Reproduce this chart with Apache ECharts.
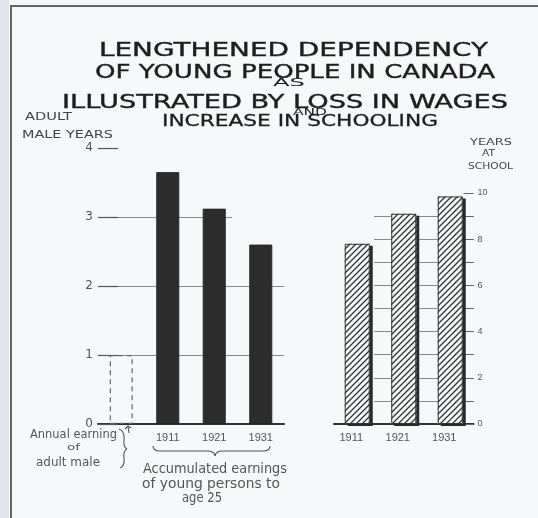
<!DOCTYPE html>
<html>
<head>
<meta charset="utf-8">
<script src="https://cdn.jsdelivr.net/npm/echarts@6/dist/echarts.min.js"></script>
<style>
html,body{margin:0;padding:0;background:#f6f9f9;}
#chart{width:538px;height:518px;}
</style>
</head>
<body>
<div id="chart"></div>
<script>
// ---- data ----
const earningsCategories = ['', '1911', '1921', '1931'];
const earningsValues = [1.0, 3.65, 3.12, 2.6];      // adult male years
const schoolCategories = ['1911', '1921', '1931'];
const schoolValues = [7.8, 9.1, 9.85];              // years at school
const earningsTicks = [0, 1, 2, 3, 4];
const schoolTickLabels = [0, 2, 4, 6, 8, 10];

const titleLines = ['LENGTHENED DEPENDENCY', 'OF YOUNG PEOPLE IN CANADA', 'AS',
  'ILLUSTRATED BY LOSS IN WAGES', 'AND', 'INCREASE IN SCHOOLING'];

// ---- helpers ----
const measure = document.createElement('canvas').getContext('2d');
function fitText(text, font, left, right, cy, fill, bold) {
  measure.font = font;
  const w = measure.measureText(text).width;
  const col = fill || '#1e1e1e';
  const style = { text: text, font: font, fill: col, textAlign: 'left', textVerticalAlign: 'middle' };
  if (bold) { style.stroke = col; style.lineWidth = bold; }
  return { type: 'text', x: left, y: cy, scaleX: (right - left) / w, z: 10, style: style };
}
function hatch() {
  const s = 12, step = 6;
  const c = document.createElement('canvas');
  c.width = s; c.height = s;
  const g = c.getContext('2d');
  g.fillStyle = '#f6f9f9'; g.fillRect(0, 0, s, s);
  g.strokeStyle = '#333'; g.lineWidth = 1.3;
  g.beginPath();
  for (let k = -step; k <= 2 * s + step; k += step) {
    g.moveTo(k - s - 1, s + 1);
    g.lineTo(k + 1, -1);
  }
  g.stroke();
  return c;
}
const inkStyle = { stroke: '#555', fill: null, lineWidth: 1.1 };
function curve(x1, y1, cx, cy, x2, y2) {
  return { type: 'bezierCurve', z: 10, shape: { x1: x1, y1: y1, cpx1: cx, cpy1: cy, x2: x2, y2: y2 }, style: inkStyle };
}
function poly(points) {
  return { type: 'polyline', z: 10, shape: { points: points }, style: inkStyle };
}

// ---- layout ----
const L = { left: 98, top: 148, width: 186, height: 276 };
const R = { left: 334, top: 193, width: 139.5, height: 231 };
const lMax = earningsTicks[earningsTicks.length - 1];
const rMax = schoolTickLabels[schoolTickLabels.length - 1];

const gridLine = { color: '#8a8a8a', width: 1 };
const hidden = { show: false };

const chart = echarts.init(document.getElementById('chart'));
const handFont = '"DejaVu Sans", sans-serif';
const titleFont = '"DejaVu Sans", sans-serif';

chart.setOption({
  backgroundColor: '#f6f9f9',
  animation: false,
  grid: [
    { left: L.left, top: L.top, width: L.width, height: L.height },
    { left: L.left, top: L.top + L.height * (1 - 2 / lMax), width: L.width, height: L.height * 2 / lMax },
    { left: L.left, top: L.top + L.height * (1 - 3 / lMax), width: 134, height: L.height * 3 / lMax },
    { left: R.left, top: R.top, width: R.width, height: R.height },
    { left: 374, top: R.top + R.height * (1 - 9 / rMax), width: 100, height: R.height * 9 / rMax }
  ],
  xAxis: [
    { gridIndex: 0, type: 'category', data: earningsCategories,
      axisLine: { lineStyle: { color: '#333', width: 2 } }, axisTick: hidden,
      axisLabel: { margin: 8, fontSize: 11, color: '#555', fontFamily: '"Liberation Sans", sans-serif' } },
    { gridIndex: 1, type: 'value', min: 0, max: 1, show: false },
    { gridIndex: 2, type: 'value', min: 0, max: 1, show: false },
    { gridIndex: 3, type: 'category', data: schoolCategories,
      axisLine: { lineStyle: { color: '#333', width: 2 } }, axisTick: hidden,
      axisLabel: { margin: 8, fontSize: 11, color: '#555', padding: [0, 12, 0, 0], fontFamily: '"Liberation Sans", sans-serif' } },
    { gridIndex: 4, type: 'value', min: 0, max: 1, show: false }
  ],
  yAxis: [
    { gridIndex: 0, type: 'value', min: 0, max: lMax, interval: 1,
      axisLine: hidden, splitLine: hidden,
      axisTick: { show: true, inside: true, length: 20, lineStyle: { color: '#555', width: 1.2 } },
      axisLabel: { margin: 5, fontSize: 12, color: '#555', fontFamily: '"DejaVu Sans", sans-serif' } },
    { gridIndex: 1, type: 'value', min: 0, max: 2, interval: 1, axisLine: hidden, axisTick: hidden,
      axisLabel: hidden, splitLine: { lineStyle: gridLine } },
    { gridIndex: 2, type: 'value', min: 0, max: 3, interval: 1, axisLine: hidden, axisTick: hidden,
      axisLabel: hidden, splitLine: { lineStyle: gridLine } },
    { gridIndex: 3, type: 'value', position: 'right', min: 0, max: rMax, interval: 1,
      axisLine: hidden, splitLine: hidden,
      axisTick: { show: true, inside: true, length: 10, lineStyle: { color: '#666', width: 1 } },
      axisLabel: { margin: 4, fontSize: 9, color: '#555',
        formatter: v => schoolTickLabels.indexOf(v) >= 0 ? String(v) : '' } },
    { gridIndex: 4, type: 'value', min: 0, max: 9, interval: 1, axisLine: hidden, axisTick: hidden,
      axisLabel: hidden, splitLine: { lineStyle: gridLine } }
  ],
  series: [
    { type: 'bar', xAxisIndex: 0, yAxisIndex: 0, barWidth: 23, z: 5,
      itemStyle: { color: '#2c2c2c', borderColor: '#222', borderWidth: 0.8 },
      data: earningsValues.map((v, i) => i === 0 ? {
        value: v,
        itemStyle: { color: 'rgba(0,0,0,0)', borderColor: '#666', borderWidth: 1.2, borderType: [5, 4] }
      } : v) },
    // hatched fill with its drop shadow
    { type: 'bar', xAxisIndex: 3, yAxisIndex: 3, barWidth: 25, z: 5,
      itemStyle: { color: { image: hatch(), repeat: 'repeat' }, borderWidth: 0,
        shadowColor: '#2a2a2a', shadowBlur: 0, shadowOffsetX: 3, shadowOffsetY: 2 },
      data: schoolValues },
    // thin outline of the same bars (no shadow)
    { type: 'bar', xAxisIndex: 3, yAxisIndex: 3, barWidth: 25, barGap: '-100%', z: 6,
      itemStyle: { color: 'rgba(0,0,0,0)', borderColor: '#333', borderWidth: 1 },
      data: schoolValues }
  ],
  graphic: [
    { type: 'rect', shape: { x: 0, y: 0, width: 9, height: 518 }, style: { fill: '#e1e5ee' }, z: 1 },
    { type: 'line', shape: { x1: 11, y1: 5, x2: 11, y2: 518 }, style: { stroke: '#666', lineWidth: 2 }, z: 1 },
    { type: 'line', shape: { x1: 10, y1: 6, x2: 538, y2: 6 }, style: { stroke: '#666', lineWidth: 2 }, z: 1 },
    fitText(titleLines[0], '20px ' + titleFont, 99, 488, 50.5, null, 0.4),
    fitText(titleLines[1], '20px ' + titleFont, 95, 495, 72.5, null, 0.4),
    fitText(titleLines[2], '10px ' + titleFont, 273, 305, 83.5),
    fitText(titleLines[3], '20px ' + titleFont, 62, 508, 102.5, null, 0.4),
    fitText(titleLines[4], '9px ' + titleFont, 293, 327, 112.5),
    fitText(titleLines[5], '16px ' + titleFont, 162, 438, 121.5, null, 0.3),
    fitText('ADULT', '10px ' + titleFont, 25, 72, 117, '#444'),
    fitText('MALE YEARS', '10px ' + titleFont, 22, 113, 135, '#444'),
    fitText('YEARS', '9px ' + titleFont, 470, 512, 143, '#444'),
    fitText('AT', '9px ' + titleFont, 482, 495, 154, '#444'),
    fitText('SCHOOL', '9px ' + titleFont, 468, 513, 167, '#444'),
    fitText('Annual earning', '13px ' + handFont, 30, 117, 435, '#555'),
    fitText('of', '9px ' + handFont, 67, 80, 448, '#555'),
    fitText('adult male', '13px ' + handFont, 36, 100, 463, '#555'),
    fitText('Accumulated earnings', '14px ' + handFont, 143, 287, 469, '#555'),
    fitText('of young persons to', '14px ' + handFont, 142, 280, 484, '#555'),
    fitText('age 25', '14px ' + handFont, 182, 222, 498, '#555'),
    // vertical brace beside "Annual earning of adult male"
    curve(119, 429, 125, 431, 124, 440),
    curve(124, 440, 123, 447, 127, 449),
    curve(127, 449, 123, 451, 124, 458),
    curve(124, 458, 125, 466, 120, 468),
    // small arrow pointing to the dashed bar
    poly([[129, 433], [128, 426]]),
    poly([[125, 429], [128, 426], [131, 428]]),
    // horizontal brace under the years
    curve(153, 446, 153, 451, 160, 451),
    poly([[160, 451], [208, 451]]),
    curve(208, 451, 214, 451, 215, 456),
    curve(215, 456, 216, 451, 222, 451),
    poly([[222, 451], [263, 451]]),
    curve(263, 451, 270, 451, 270, 446)
  ]
});
</script>
</body>
</html>
